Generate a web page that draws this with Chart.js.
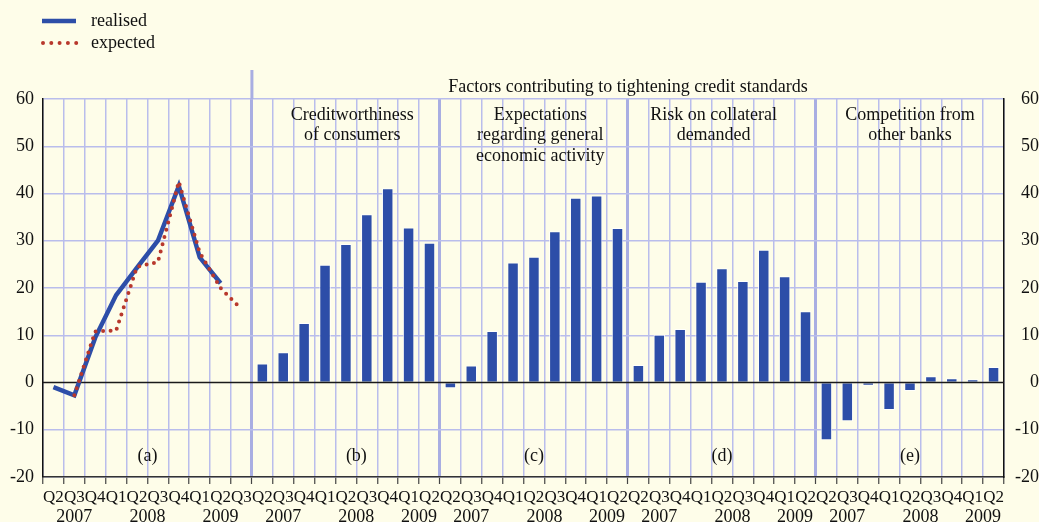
<!DOCTYPE html>
<html>
<head>
<meta charset="utf-8">
<script src="https://cdn.jsdelivr.net/npm/chart.js@4"></script>
<style>
  body { margin: 0; background: #fefde9; }
  #wrap { width: 1039px; height: 522px; }
</style>
</head>
<body>
<div id="wrap"><canvas id="chart" width="1039" height="522"></canvas></div>
<script>
// quarters for each panel
var quartersA = ['Q2','Q3','Q4','Q1','Q2','Q3','Q4','Q1','Q2','Q3'];
var quartersB = ['Q2','Q3','Q4','Q1','Q2','Q3','Q4','Q1','Q2'];
var yearsA = ['2007','2008','2009'];
var yearsB = ['2007','2008','2009'];

// panel (a): overall change in credit standards
var realised = [-1, -2.7, 9.5, 18.5, 24.3, 30, 41.6, 26.5, 21, null];
var expected = [null, -2.7, 10.8, 11, 24.5, 25.5, 42.5, 27.5, 20, 15.5];

// panels (b)-(e): factors
var creditworthiness = [4.0, 6.4, 12.6, 24.9, 29.3, 35.6, 41.1, 32.8, 29.6];
var expectations = [-1.2, 3.6, 10.9, 25.4, 26.6, 32, 39.1, 39.6, 32.7];
var collateral = [3.7, 10.1, 11.3, 21.3, 24.2, 21.5, 28.1, 22.5, 15.1];
var competition = [-12.2, -8.2, -0.7, -5.8, -1.8, 1.3, 0.9, 0.7, 3.3];

var panelTitles = [
	['Creditworthiness', 'of consumers'],
	['Expectations', 'regarding general', 'economic activity'],
	['Risk on collateral', 'demanded'],
	['Competition from', 'other banks']
];
var panelLetters = ['(a)', '(b)', '(c)', '(d)', '(e)'];
var topTitle = 'Factors contributing to tightening credit standards';

var BLUE = '#2d4ea8';
var RED = '#b8382c';
var GRID = '#b9bdec';
var TXT = '#111';
var FONT = '"Liberation Serif", "Times New Roman", serif';

// build the long category axis
var labels = quartersA.slice();
var bars = quartersA.map(function(){ return null; });
var lineR = realised.slice();
var lineE = expected.slice();
[creditworthiness, expectations, collateral, competition].forEach(function(p){
	for(var i = 0; i < quartersB.length; i++){
		labels.push(quartersB[i]);
		bars.push(p[i]);
		lineR.push(null);
		lineE.push(null);
	}
});
var nA = quartersA.length, nB = quartersB.length;
var dividers = [nA, nA + nB, nA + 2*nB, nA + 3*nB];

function catX(xs, pos) {
	// pos in category units from left edge of the chart area
	var w = (xs.right - xs.left) / labels.length;
	return xs.left + pos * w;
}

var decor = {
	id: 'decor',
	afterDatasetDraw: function(chart, args) {
		if(args.index !== 0) return;
		var ctx = chart.ctx, ys = chart.scales.y, xs = chart.scales.x;
		var y0 = ys.getPixelForValue(0);
		ctx.save();
		ctx.strokeStyle = '#1a1a1a';
		ctx.lineWidth = 1.6;
		ctx.beginPath();
		ctx.moveTo(xs.left, y0);
		ctx.lineTo(xs.right, y0);
		ctx.stroke();
		ctx.restore();
	},
	afterDraw: function(chart) {
		var ctx = chart.ctx, xs = chart.scales.x;
		var area = chart.chartArea;
		ctx.save();
		// divider extends up above plot for the factors block
		var xd = catX(xs, dividers[0]);
		ctx.strokeStyle = '#a9aee2';
		ctx.lineWidth = 3;
		ctx.beginPath();
		ctx.moveTo(xd, 70);
		ctx.lineTo(xd, area.top);
		ctx.stroke();

		ctx.fillStyle = TXT;
		ctx.font = '18px ' + FONT;
		ctx.textAlign = 'center';
		ctx.textBaseline = 'middle';
		ctx.fillText(topTitle, (xd + area.right) / 2, 87);

		var titlePos = [14.8, 23.8, 32.1, 41.5];
		panelTitles.forEach(function(lines, k){
			lines.forEach(function(t, j){
				ctx.fillText(t, catX(xs, titlePos[k]), 115 + j * 20.5);
			});
		});

		var letterPos = [5, 15, 23.5, 32.5, 41.5];
		panelLetters.forEach(function(t, k){
			ctx.fillText(t, catX(xs, letterPos[k]), 456);
		});

		// years under the quarter labels
		var yearPosA = [1.5, 5, 8.5];
		var yearPosB = [1.5, 5, 8];
		yearsA.forEach(function(t, k){
			ctx.fillText(t, catX(xs, yearPosA[k]), 517);
		});
		dividers.forEach(function(start){
			yearsB.forEach(function(t, k){
				ctx.fillText(t, catX(xs, start + yearPosB[k]), 517);
			});
		});

		// legend
		ctx.textAlign = 'left';
		ctx.fillText('realised', 91, 21);
		ctx.fillText('expected', 91, 43);
		ctx.strokeStyle = BLUE;
		ctx.lineWidth = 4.5;
		ctx.beginPath();
		ctx.moveTo(42, 21);
		ctx.lineTo(76, 21);
		ctx.stroke();
		ctx.strokeStyle = RED;
		ctx.lineWidth = 4;
		ctx.lineCap = 'round';
		ctx.setLineDash([0, 8.3]);
		ctx.beginPath();
		ctx.moveTo(43, 43);
		ctx.lineTo(77, 43);
		ctx.stroke();
		ctx.restore();
	}
};

var ctx = document.getElementById('chart').getContext('2d');
var myChart = new Chart(ctx, {
	type: 'bar',
	data: {
		labels: labels,
		datasets: [
			{
				type: 'bar',
				data: bars,
				backgroundColor: BLUE,
				borderColor: 'rgba(255,255,255,0.85)',
				borderWidth: 1,
				categoryPercentage: 1,
				barPercentage: 0.55,
				order: 3
			},
			{
				type: 'line',
				data: lineR,
				borderColor: BLUE,
				borderWidth: 4.5,
				pointRadius: 0,
				tension: 0,
				order: 2
			},
			{
				type: 'line',
				data: lineE,
				borderColor: RED,
				borderWidth: 4,
				borderDash: [0, 7.5],
				borderCapStyle: 'round',
				pointRadius: 0,
				tension: 0,
				order: 1
			}
		]
	},
	options: {
		responsive: false,
		animation: false,
		layout: { padding: { top: 99, left: 0, right: 0, bottom: 0 } },
		plugins: {
			legend: { display: false },
			tooltip: { enabled: false }
		},
		scales: {
			x: {
				offset: true,
				afterFit: function(scale){ scale.height = 45; },
				grid: {
					offset: true,
					color: function(c){ return dividers.indexOf(c.index) >= 0 ? '#a9aee2' : GRID; },
					lineWidth: function(c){ return dividers.indexOf(c.index) >= 0 ? 3 : 1.5; },
					tickColor: '#444',
					tickWidth: 1.2,
					tickLength: 7
				},
				border: { color: '#333', width: 1.5 },
				ticks: {
					autoSkip: false,
					maxRotation: 0,
					minRotation: 0,
					padding: 3,
					color: TXT,
					font: { family: FONT, size: 17 }
				}
			},
			y: {
				position: 'left',
				min: -20,
				max: 60,
				afterFit: function(scale){ scale.width = 43; },
				grid: {
					color: function(c){ return c.tick && c.tick.value === 0 ? 'rgba(0,0,0,0)' : GRID; },
					lineWidth: 1.5,
					drawTicks: false
				},
				border: { color: '#111', width: 1.5 },
				ticks: {
					stepSize: 10,
					padding: 9,
					color: TXT,
					font: { family: FONT, size: 18 }
				}
			},
			y2: {
				position: 'right',
				min: -20,
				max: 60,
				afterFit: function(scale){ scale.width = 35; },
				grid: { display: false, drawTicks: false },
				border: { color: '#111', width: 1.5 },
				ticks: {
					stepSize: 10,
					padding: 8,
					crossAlign: 'far',
					color: TXT,
					font: { family: FONT, size: 18 }
				}
			}
		}
	},
	plugins: [decor]
});
</script>
</body>
</html>
